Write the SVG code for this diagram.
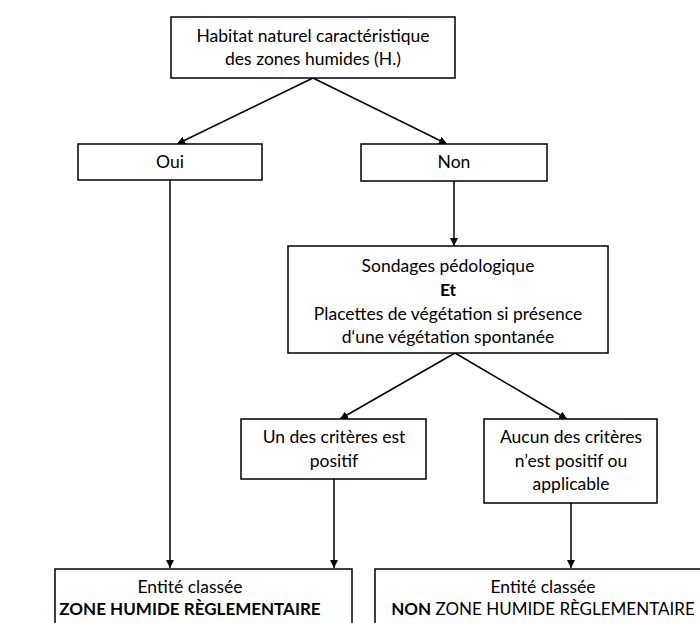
<svg xmlns="http://www.w3.org/2000/svg" width="700" height="623" viewBox="0 0 700 623">
<defs>
<style>
.box{fill:#fff;stroke:#000;stroke-width:1.5}
.t{font-family:Lato,"Liberation Sans",sans-serif;font-size:17.5px;fill:#000;text-anchor:middle}
.s{font-size:17px}
.b{font-weight:bold}
.c{stroke:#000;stroke-width:1.5;fill:none;marker-end:url(#ah)}
</style>
<marker id="ah" viewBox="0 0 10 10" refX="10" refY="5" markerWidth="8" markerHeight="8" markerUnits="userSpaceOnUse" orient="auto">
<path d="M0,0 L10,5 L0,10 z" fill="#000"/>
</marker>
</defs>
<rect width="700" height="623" fill="#fff"/>
<g id="connectors">
<path class="c" d="M313,78 L177,144"/>
<path class="c" d="M313,78 L447,144"/>
<path class="c" d="M170,180 L170,568"/>
<path class="c" d="M454,181 L454,246"/>
<path class="c" d="M455,353 L340,419"/>
<path class="c" d="M455,353 L567,419"/>
<path class="c" d="M334,479 L334,568"/>
<path class="c" d="M571,503 L571,568"/>
</g>
<g id="habitat">
<rect class="box" x="171" y="17" width="284" height="61"/>
<text class="t" x="313" y="42">Habitat naturel caractéristique</text>
<text class="t" x="313" y="65">des zones humides (H.)</text>
</g>
<g id="oui">
<rect class="box" x="78" y="144" width="184" height="36"/>
<text class="t" x="170" y="168">Oui</text>
</g>
<g id="non">
<rect class="box" x="361" y="144" width="186" height="37"/>
<text class="t" x="454" y="168">Non</text>
</g>
<g id="sondages">
<rect class="box" x="288" y="246" width="320" height="107"/>
<text class="t" x="448" y="272">Sondages pédologique</text>
<text class="t b" x="448" y="296">Et</text>
<text class="t" x="448" y="320">Placettes de végétation si présence</text>
<text class="t" x="448" y="343">d‘une végétation spontanée</text>
</g>
<g id="positif">
<rect class="box" x="241" y="419" width="185" height="60"/>
<text class="t" x="334" y="443">Un des critères est</text>
<text class="t" x="334" y="467">positif</text>
</g>
<g id="aucun">
<rect class="box" x="484" y="419" width="173" height="84"/>
<text class="t" x="571" y="443">Aucun des critères</text>
<text class="t" x="571" y="467">n’est positif ou</text>
<text class="t" x="571" y="490">applicable</text>
</g>
<g id="zh">
<rect class="box" x="55" y="569" width="297" height="70"/>
<text class="t" x="190" y="593">Entité classée</text>
<text class="t s b" x="190" y="615">ZONE HUMIDE RÈGLEMENTAIRE</text>
</g>
<g id="nonzh">
<rect class="box" x="375" y="569" width="336" height="70"/>
<text class="t" x="543" y="593">Entité classée</text>
<text class="t s" x="543" y="615"><tspan class="b">NON</tspan> ZONE HUMIDE RÈGLEMENTAIRE</text>
</g>
</svg>
